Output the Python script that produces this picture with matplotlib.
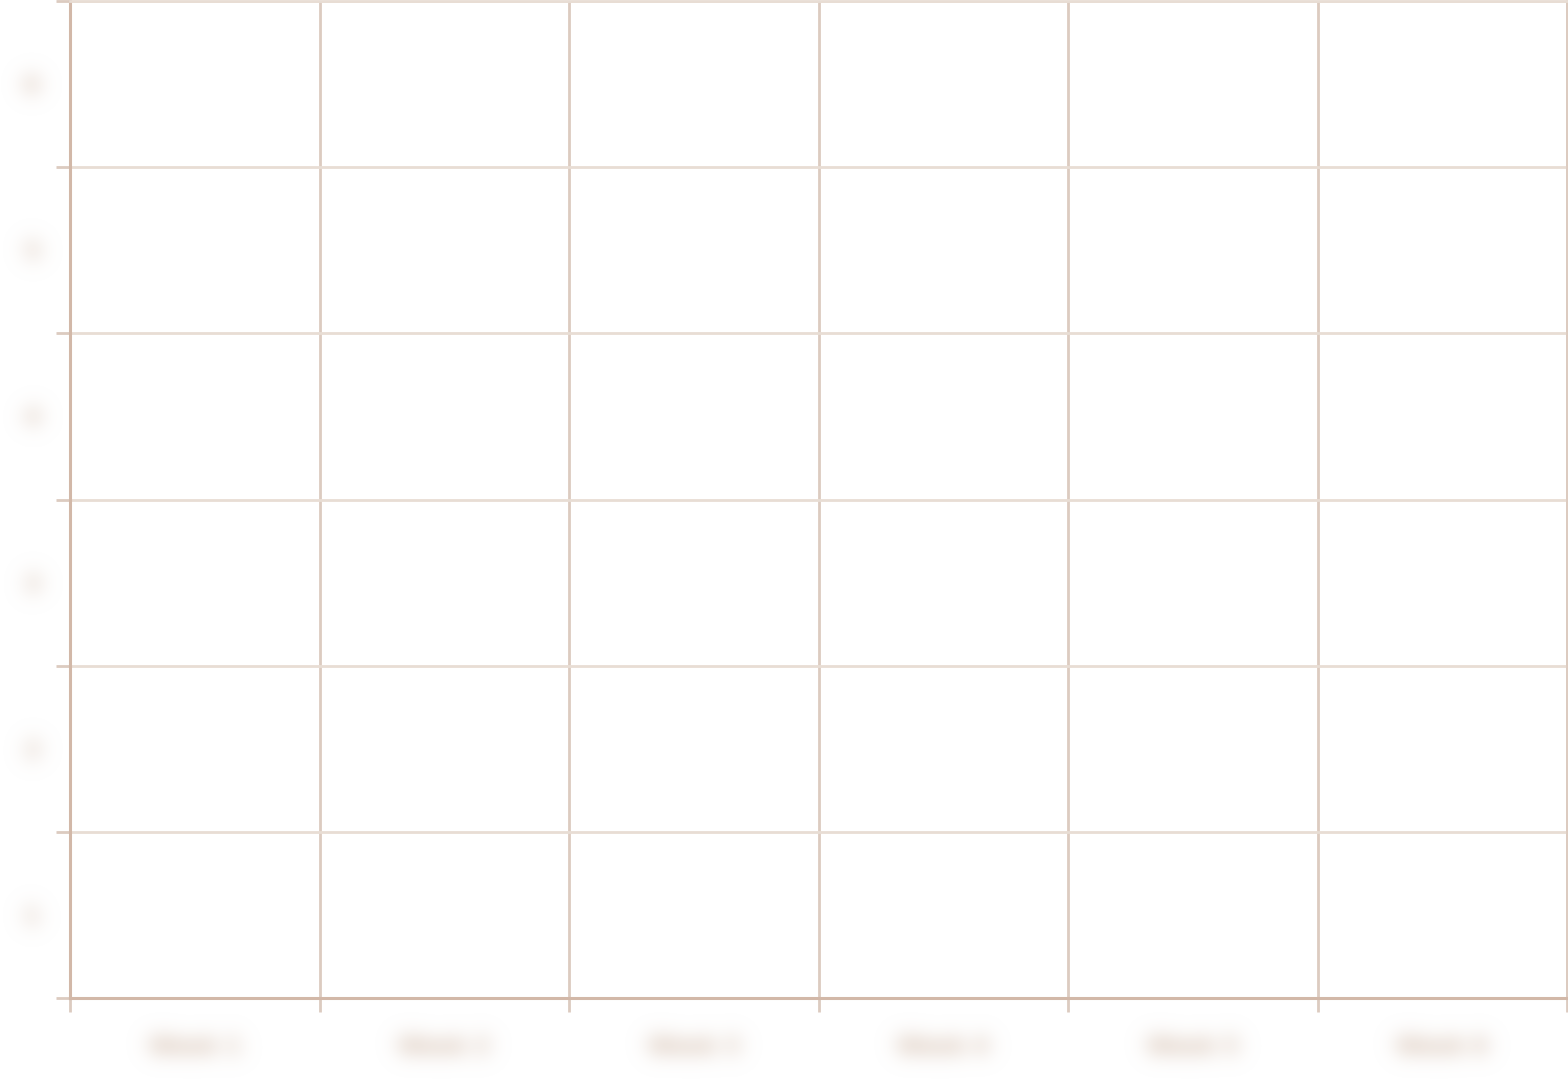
import numpy as np
import matplotlib
matplotlib.use("Agg")
import matplotlib.pyplot as plt
from matplotlib.ticker import FixedLocator
from matplotlib.colors import to_rgb

# ---- data (labels are unreadable/blurred in the reference; best guesses) ----
x_labels = ["Week 1", "Week 2", "Week 3", "Week 4", "Week 5", "Week 6"]
y_labels = ["6", "5", "4", "3", "2", "1"]   # top to bottom
n_cols = len(x_labels)
n_rows = len(y_labels)

LABEL_COLOR = "#e2d3c8"


class GaussianBlur:
    """agg filter that blurs an artist's alpha (mimics the soft labels)."""
    def __init__(self, sigma_px, color, alpha=1.0):
        self.sigma = sigma_px
        self.color = to_rgb(color)
        self.alpha = alpha

    def __call__(self, im, dpi):
        s = self.sigma
        pad = int(np.ceil(3 * s))
        a = np.pad(im[:, :, 3], [(pad, pad), (pad, pad)], mode="constant")
        r = np.arange(-pad, pad + 1)
        k = np.exp(-0.5 * (r / s) ** 2)
        k /= k.sum()
        a = np.apply_along_axis(lambda v: np.convolve(v, k, mode="same"), 0, a)
        a = np.apply_along_axis(lambda v: np.convolve(v, k, mode="same"), 1, a)
        out = np.zeros(a.shape + (4,), dtype=float)
        out[:, :, 0] = self.color[0]
        out[:, :, 1] = self.color[1]
        out[:, :, 2] = self.color[2]
        out[:, :, 3] = np.clip(a * self.alpha, 0, 1)
        return out, -pad, -pad


W, H, DPI = 1568, 1080, 100
fig = plt.figure(figsize=(W / DPI, H / DPI), dpi=DPI)
fig.patch.set_facecolor("white")

left, right = 70 / W, 1567 / W
bottom, top = 1 - 998 / H, 1 - 1 / H
ax = fig.add_axes([left, bottom, right - left, top - bottom])
ax.set_facecolor("white")

ax.set_xlim(0, n_cols)
ax.set_ylim(0, n_rows)

# cell-boundary ticks (minor) with grid; centred labels (major, no tick marks)
ax.xaxis.set_minor_locator(FixedLocator(np.arange(0, n_cols + 1)))
ax.yaxis.set_minor_locator(FixedLocator(np.arange(0, n_rows + 1)))
ax.set_xticks(np.arange(n_cols) + 0.5)
ax.set_yticks(np.arange(n_rows) + 0.5)
ax.set_xticklabels(x_labels)
ax.set_yticklabels(y_labels[::-1])

ax.tick_params(axis="x", which="major", length=0, pad=28, labelsize=16, labelcolor=LABEL_COLOR)
ax.tick_params(axis="y", which="major", length=0, pad=22, labelsize=16, labelcolor=LABEL_COLOR)
ax.tick_params(which="minor", length=10, width=2, color="#dccbc0")

ax.grid(False)
ax.xaxis.grid(True, which="minor", color="#dccbc0", linewidth=2)
ax.yaxis.grid(True, which="minor", color="#e8ddd4", linewidth=2)
ax.set_axisbelow(True)

for side in ["left", "bottom"]:
    ax.spines[side].set_color("#d2b8a8")
    ax.spines[side].set_linewidth(2.2)
ax.spines["top"].set_color("#e8ddd4")
ax.spines["top"].set_linewidth(2)
ax.spines["right"].set_color("#dccbc0")
ax.spines["right"].set_linewidth(2)

blur = GaussianBlur(10, LABEL_COLOR, alpha=1.8)
for lab in ax.get_xticklabels() + ax.get_yticklabels():
    lab.set_agg_filter(blur)
    lab.set_fontweight("bold")

fig.savefig("out.png", dpi=DPI, facecolor="white")
